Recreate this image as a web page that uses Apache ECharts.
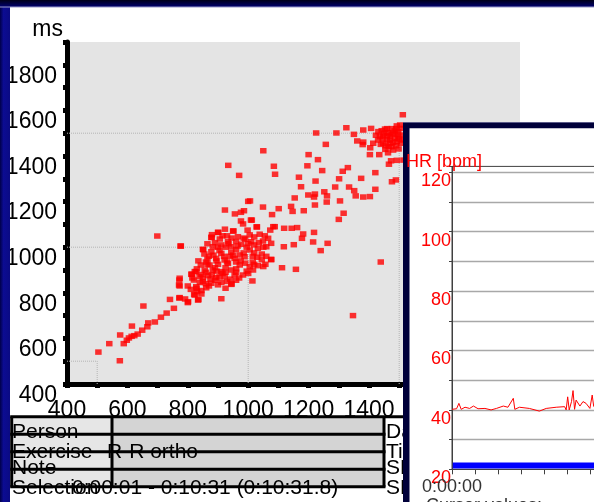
<!DOCTYPE html>
<html>
<head>
<meta charset="utf-8">
<script src="https://cdn.jsdelivr.net/npm/echarts@6/dist/echarts.min.js"></script>
<style>
html, body { margin: 0; padding: 0; background: #fff; }
#chart { width: 594px; height: 502px; }
</style>
</head>
<body>
<div id="chart"></div>
<script>
// R-R interval pairs [RR(n), RR(n+1)] in ms
var lowTail = [
    [504, 540], [575, 502], [540, 577], [576, 615], [588, 577], [598, 592], [605, 602], [614, 609],
    [623, 612], [615, 654], [634, 619], [649, 636], [666, 651], [669, 668], [691, 672], [653, 742],
    [711, 693], [730, 711], [754, 732], [741, 771], [772, 777], [791, 773], [800, 757], [835, 771],
    [911, 774], [821, 793], [771, 834], [772, 856], [813, 882], [827, 893], [829, 820], [945, 839],
    [1014, 852], [699, 1049], [1347, 700], [1439, 935]
];
var mainCluster = [
    [934, 1359], [970, 1315], [1000, 1201], [923, 1163], [956, 1146], [976, 1153], [986, 1160],
    [1009, 1119], [976, 1115], [983, 1102], [923, 1079], [951, 1071], [901, 1065], [998, 1075],
    [777, 1005], [851, 989], [879, 1043],
    [900, 1065], [950, 1071], [1029, 1089], [1073, 1075], [1088, 1090], [878, 1043], [906, 1036],
    [933, 1024], [966, 1046], [1005, 1054], [1038, 1057], [1066, 1039], [776, 1005], [850, 991],
    [883, 1002], [911, 1010], [944, 1002], [977, 1013], [1010, 1024], [1049, 1027], [1076, 1017],
    [878, 980], [911, 973], [944, 978], [972, 966], [1005, 988], [1032, 995], [1060, 1002],
    [865, 948], [894, 951], [922, 944], [955, 951], [988, 958], [1030, 956], [1076, 947],
    [843, 922], [872, 922], [900, 925], [933, 929], [972, 922], [1005, 914], [1032, 919], [1057, 925],
    [856, 900], [883, 900], [911, 893], [944, 900], [983, 878], [1016, 900], [823, 893], [812, 881],
    [839, 871], [867, 875], [894, 866], [922, 871], [955, 878], [773, 864], [820, 856], [850, 849],
    [878, 842], [911, 846], [944, 837], [773, 830], [828, 827], [861, 822], [831, 805], [823, 790],
    [773, 779], [801, 761], [834, 768],
    [890, 1020], [925, 1000], [960, 990], [995, 1000], [1020, 1010], [870, 960], [905, 985],
    [940, 960], [975, 940], [1015, 935], [1045, 970], [860, 935], [890, 910], [925, 910], [960, 905],
    [995, 895], [880, 880], [915, 885], [940, 860], [970, 865], [850, 865], [890, 855], [925, 820],
    [860, 840], [800, 830], [845, 810], [990, 1035], [1050, 1000], [1020, 975], [1060, 960],
    [960, 1025], [930, 1050],
    [880, 1055], [915, 1050], [945, 1040], [985, 1040], [1020, 1045], [1055, 1050], [865, 1015],
    [900, 1000], [935, 1015], [965, 1005], [1000, 1015], [1035, 1020], [855, 970], [885, 965],
    [920, 960], [950, 965], [985, 975], [1015, 960], [1045, 945], [835, 940], [865, 925], [895, 940],
    [930, 935], [960, 935], [990, 930], [1020, 925], [1050, 915], [830, 905], [860, 890], [895, 895],
    [925, 890], [960, 890], [1000, 885], [845, 880], [875, 860], [905, 870], [930, 850], [960, 855],
    [815, 865], [840, 845], [870, 830], [900, 835], [810, 815], [845, 795]
];
var spread = [
    [1325, 1524], [1407, 1521], [1381, 1514], [1225, 1501], [1292, 1501], [1350, 1495], [1050, 1423],
    [1257, 1451], [1361, 1466], [1381, 1461], [1379, 1450], [1404, 1436], [1200, 1406], [1231, 1384],
    [1403, 1406], [1434, 1406], [1466, 1364], [1473, 1379], [1492, 1381], [1514, 1382], [1085, 1355],
    [1196, 1357], [1245, 1336], [1313, 1333], [1330, 1349], [1421, 1327], [1089, 1320], [1168, 1307],
    [1223, 1290], [1301, 1300], [1374, 1302], [1476, 1287], [1489, 1295], [1175, 1265], [1288, 1264],
    [1334, 1264], [1351, 1248], [1252, 1243], [1421, 1254], [1199, 1229], [1221, 1233], [1218, 1220],
    [1261, 1225], [1356, 1225], [1381, 1220], [1403, 1222], [1154, 1216], [1304, 1203], [1260, 1198],
    [1221, 1185], [1006, 1203], [1049, 1176], [1101, 1169], [1142, 1179], [1147, 1157], [1184, 1160],
    [1079, 1143], [1316, 1149], [1300, 1122], [1012, 1119], [1028, 1089], [1083, 1090], [1119, 1083],
    [1144, 1083], [1162, 1086], [1182, 1058], [1178, 1039], [1218, 1065], [1215, 1023], [1263, 1017],
    [1240, 985], [1151, 1011], [1118, 1002], [1076, 945], [1112, 910], [1158, 903]
];
var highCluster = [
    [1512, 1581], [1423, 1491], [1430, 1470], [1442, 1511], [1453, 1518], [1492, 1532], [1503, 1536],
    [1439, 1451], [1454, 1429], [1463, 1414], [1498, 1431], [1505, 1456], [1469, 1485], [1480, 1500],
    [1459, 1470], [1492, 1463], [1514, 1492], [1475, 1441], [1447, 1488], [1464, 1502], [1497, 1507],
    [1508, 1521], [1486, 1478], [1436, 1485], [1447, 1456], [1469, 1456], [1480, 1426], [1497, 1485],
    [1511, 1470], [1414, 1456], [1431, 1507], [1450, 1500], [1460, 1490], [1475, 1495], [1485, 1510],
    [1495, 1495], [1470, 1470], [1480, 1460], [1490, 1445], [1455, 1445], [1465, 1440], [1500, 1475],
    [1445, 1475], [1475, 1520], [1490, 1520], [1460, 1520]
];
var identityLevels = [500, 1000, 1500];

// heart rate trace (seconds, bpm)
var hrTime = [0, 6, 9, 12, 17, 23, 28, 34, 43, 51, 58, 67, 73, 80, 82, 88, 101, 114, 123, 136,
    147, 149, 151, 153, 156, 158, 160, 162, 167, 171, 175, 180, 183, 185];
var hrValue = [40.2, 40.4, 42.2, 40.2, 40.9, 40.5, 41.3, 40.4, 40.5, 40.0, 40.5, 41.3, 40.9, 43.9, 40.2,
    40.9, 40.5, 39.6, 40.5, 40.9, 41.1, 40.0, 44.4, 40.0, 42.8, 46.5, 40.2, 43.3, 41.3, 42.8, 42.2,
    40.5, 45.0, 41.1];
var recordLength = 631.8;
var selection = [1, 631.8];

var tableLabels = ['Person', 'Exercise', 'Note', 'Selection'];
var tableValues = ['', 'R-R ortho', '', '0:00:01 - 0:10:31 (0:10:31.8)'];
var sideLabels = ['Date', 'Time', 'SD1', 'SD2'];

var FONT = 'Liberation Sans, Arial, sans-serif';

function hms(s) {
    var h = Math.floor(s / 3600), m = Math.floor(s / 60) % 60, sec = Math.floor(s % 60);
    return h + ':' + (m < 10 ? '0' : '') + m + ':' + (sec < 10 ? '0' : '') + sec;
}

// table drawing
var rowLines = [416.7, 434.3, 451.7, 469.3, 486.7];
var textRows = [432, 452.5, 468.5, 488];
var colX = [11.7, 112, 384];
var graphics = [];
graphics.push({ type: 'rect', z: 30, shape: { x: colX[0], y: rowLines[0], width: colX[1] - colX[0], height: rowLines[4] - rowLines[0] }, style: { fill: '#e6e6e6' } });
graphics.push({ type: 'rect', z: 30, shape: { x: colX[1], y: rowLines[0], width: colX[2] - colX[1], height: rowLines[4] - rowLines[0] }, style: { fill: '#d4d4d4' } });
rowLines.forEach(function (y, i) {
    graphics.push({ type: 'line', z: 31, shape: { x1: colX[0] - 1.5, y1: y, x2: i === 0 ? 404 : colX[2] + 1.5, y2: y }, style: { stroke: '#000', lineWidth: 3 } });
});
colX.forEach(function (x) {
    graphics.push({ type: 'line', z: 31, shape: { x1: x, y1: rowLines[0], x2: x, y2: rowLines[4] }, style: { stroke: '#000', lineWidth: 3 } });
});
tableLabels.forEach(function (t, i) {
    graphics.push({ type: 'text', z: 32, x: 12, y: textRows[i], style: { text: t, fontSize: 21, fontFamily: FONT, fill: '#000', verticalAlign: 'middle' } });
    graphics.push({ type: 'text', z: 32, x: i === 3 ? 72 : 107, y: textRows[i], style: { text: tableValues[i], fontSize: 21, fontFamily: FONT, fill: '#000', verticalAlign: 'middle' } });
    graphics.push({ type: 'text', z: 32, x: 386, y: textRows[i], style: { text: sideLabels[i], fontSize: 21, fontFamily: FONT, fill: '#000', verticalAlign: 'middle' } });
});

// HR window frame
graphics.push({ type: 'rect', z: 50, shape: { x: 403, y: 122, width: 200, height: 400 }, style: { fill: '#00003a' } });
graphics.push({ type: 'line', z: 50, shape: { x1: 403, y1: 122.5, x2: 600, y2: 122.5 }, style: { stroke: '#5a5a88', lineWidth: 1 } });
graphics.push({ type: 'rect', z: 50, shape: { x: 409.5, y: 128.3, width: 200, height: 400 }, style: { fill: '#fff' } });
graphics.push({ type: 'text', z: 60, x: 406, y: 162.5, style: { text: 'HR [bpm]', fontSize: 18, fontFamily: FONT, fill: '#ff0000', verticalAlign: 'middle' } });
graphics.push({ type: 'text', z: 60, x: 426, y: 497, style: { text: 'Cursor values:', fontSize: 18, fontFamily: FONT, fill: '#333', verticalAlign: 'top' } });

// window borders
graphics.push({ type: 'rect', z: 100, shape: { x: 0, y: 0, width: 10, height: 502 },
    style: { fill: new echarts.graphic.LinearGradient(0, 0, 1, 0, [{ offset: 0, color: '#00004a' }, { offset: 0.35, color: '#0c0c92' }, { offset: 1, color: '#0a0a84' }]) } });
graphics.push({ type: 'rect', z: 100, shape: { x: 0, y: 0, width: 594, height: 7 },
    style: { fill: new echarts.graphic.LinearGradient(0, 0, 0, 1, [{ offset: 0, color: '#000018' }, { offset: 1, color: '#000070' }]) } });
graphics.push({ type: 'line', z: 100, shape: { x1: 0, y1: 7, x2: 594, y2: 7 }, style: { stroke: '#9a9ac8', lineWidth: 1 } });

var rrMin = 400, rrMax = 1900;
var identitySeries = identityLevels.map(function (v) {
    return {
        type: 'line', xAxisIndex: 0, yAxisIndex: 0, z: 1, silent: true, symbol: 'none',
        lineStyle: { color: '#b4b4b4', width: 1, type: 'dotted' },
        data: [[rrMin, v], [v, v], [v, rrMin]]
    };
});

var chart = echarts.init(document.getElementById('chart'));
chart.setOption({
    animation: false,
    backgroundColor: '#fff',
    textStyle: { fontFamily: FONT },
    graphic: graphics,
    grid: [
        { left: 67, top: 42, width: 453, height: 342, show: true, outerBoundsMode: 'none', backgroundColor: '#e4e4e4', borderWidth: 0 },
        { left: 452, top: 166.4, width: 484, height: 302.9, show: true, outerBoundsMode: 'none', z: 55, backgroundColor: 'transparent', borderColor: '#404040', borderWidth: 1 }
    ],
    xAxis: [
        {
            gridIndex: 0, type: 'value', min: rrMin, max: rrMax, interval: 100,
            axisLine: { onZero: false, lineStyle: { color: '#000', width: 5 } },
            axisTick: { length: 4, lineStyle: { color: '#000', width: 5 } },
            axisLabel: {
                margin: 15, fontSize: 23, color: '#000',
                formatter: function (v) { return v % 200 === 0 && v < rrMax ? String(v) : ''; }
            },
            splitLine: { show: false }
        },
        {
            gridIndex: 1, type: 'value', min: 0, max: recordLength, interval: 30, z: 56,
            axisLine: { onZero: false, lineStyle: { color: '#404040', width: 1 } },
            axisTick: { length: 5, lineStyle: { color: '#404040' } },
            axisLabel: {
                margin: 9, fontSize: 18, color: '#333',
                formatter: function (v) { return v % 600 === 0 ? hms(v) : ''; }
            },
            splitLine: { show: false }
        }
    ],
    yAxis: [
        {
            gridIndex: 0, type: 'value', min: rrMin, max: rrMax, interval: 100,
            name: 'ms', nameLocation: 'end', nameGap: 1,
            nameTextStyle: { fontSize: 23, color: '#000', align: 'right', verticalAlign: 'bottom', padding: [0, 4, 0, 0] },
            axisLine: { onZero: false, lineStyle: { color: '#000', width: 5 } },
            axisTick: { length: 4, lineStyle: { color: '#000', width: 5 } },
            axisLabel: {
                margin: 10, fontSize: 23, color: '#000', verticalAlign: 'top',
                formatter: function (v) { return v % 200 === 0 && v < rrMax ? String(v) : ''; }
            },
            splitLine: { show: false }
        },
        {
            gridIndex: 1, type: 'value', min: 20, max: 122, interval: 10, z: 56,
            axisLine: { onZero: false, lineStyle: { color: '#404040', width: 1 } },
            axisTick: { length: 3, lineStyle: { color: '#404040' } },
            axisLabel: {
                margin: 1, fontSize: 18, color: '#ff0000', verticalAlign: 'top',
                formatter: function (v) { return v % 20 === 0 && v <= 120 ? String(v) : ''; }
            },
            splitLine: { show: true, showMinLine: false, showMaxLine: false, lineStyle: { color: '#a8a8a8', width: 1.3 } }
        }
    ],
    series: identitySeries.concat([
        {
            type: 'scatter', xAxisIndex: 0, yAxisIndex: 0, z: 3,
            symbol: 'rect', symbolSize: [6.5, 5.5],
            itemStyle: { color: '#ff0000' },
            data: lowTail.concat(mainCluster, spread, highCluster)
        },
        {
            type: 'line', xAxisIndex: 1, yAxisIndex: 1, z: 57, symbol: 'none',
            lineStyle: { color: '#0000ff', width: 6 },
            data: [[selection[0], 21.25], [selection[1], 21.25]]
        },
        {
            type: 'line', xAxisIndex: 1, yAxisIndex: 1, z: 58, symbol: 'none',
            lineStyle: { color: '#ff0000', width: 1 },
            data: hrTime.map(function (t, i) { return [t, hrValue[i]]; })
        }
    ])
});
</script>
</body>
</html>
